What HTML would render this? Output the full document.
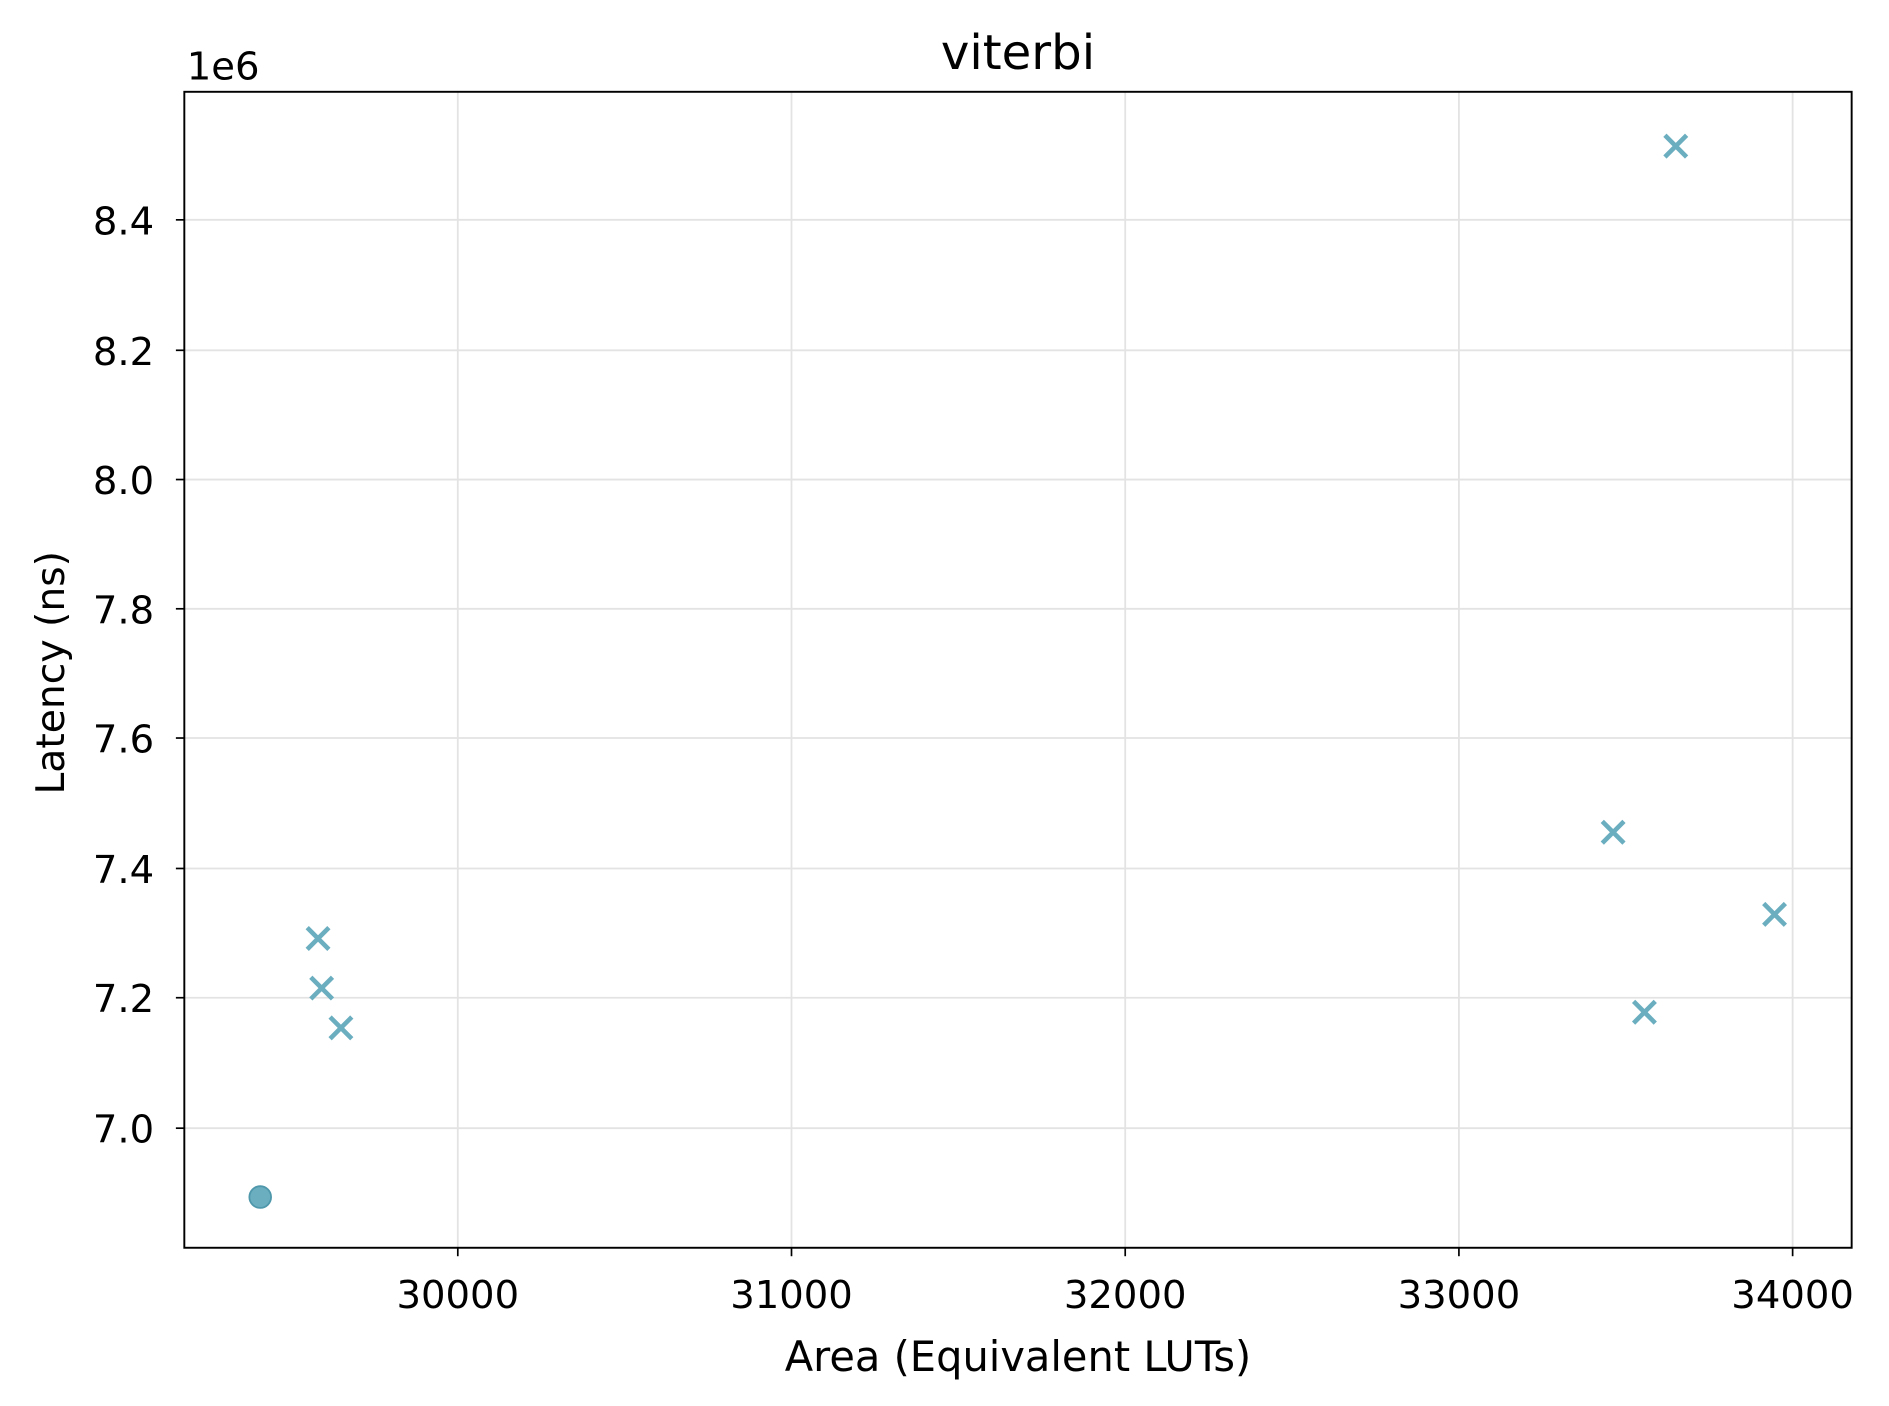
<!DOCTYPE html>
<html><head><style>html,body{margin:0;padding:0;background:#fff}svg{display:block}</style></head>
<body>
<svg width="1889" height="1406" viewBox="0 0 1568 1164" preserveAspectRatio="none" xmlns="http://www.w3.org/2000/svg" font-family="'DejaVu Sans','Liberation Sans',sans-serif">
<rect width="1568" height="1164" fill="#fff"/>
<g stroke="#e3e3e3" stroke-width="1.5">
<line x1="380" y1="76" x2="380" y2="1033"/><line x1="657" y1="76" x2="657" y2="1033"/><line x1="934" y1="76" x2="934" y2="1033"/><line x1="1211" y1="76" x2="1211" y2="1033"/><line x1="1488" y1="76" x2="1488" y2="1033"/>
<line x1="153" y1="182" x2="1537" y2="182"/><line x1="153" y1="290" x2="1537" y2="290"/><line x1="153" y1="397" x2="1537" y2="397"/><line x1="153" y1="504" x2="1537" y2="504"/><line x1="153" y1="611" x2="1537" y2="611"/><line x1="153" y1="719" x2="1537" y2="719"/><line x1="153" y1="826" x2="1537" y2="826"/><line x1="153" y1="934" x2="1537" y2="934"/>
</g>
<rect x="153" y="76" width="1384" height="957" fill="none" stroke="#000" stroke-width="1.6"/>
<g stroke="#000" stroke-width="1.4">
<line x1="380" y1="1033" x2="380" y2="1040"/><line x1="657" y1="1033" x2="657" y2="1040"/><line x1="934" y1="1033" x2="934" y2="1040"/><line x1="1211" y1="1033" x2="1211" y2="1040"/><line x1="1488" y1="1033" x2="1488" y2="1040"/>
<line x1="146" y1="182" x2="153" y2="182"/><line x1="146" y1="290" x2="153" y2="290"/><line x1="146" y1="397" x2="153" y2="397"/><line x1="146" y1="504" x2="153" y2="504"/><line x1="146" y1="611" x2="153" y2="611"/><line x1="146" y1="719" x2="153" y2="719"/><line x1="146" y1="826" x2="153" y2="826"/><line x1="146" y1="934" x2="153" y2="934"/>
</g>
<g font-size="32" fill="#000" text-anchor="middle">
<text x="380" y="1083">30000</text><text x="657" y="1083">31000</text><text x="934" y="1083">32000</text><text x="1211" y="1083">33000</text><text x="1488" y="1083">34000</text>
</g>
<g font-size="32" fill="#000" text-anchor="end">
<text x="128" y="194">8.4</text><text x="128" y="302">8.2</text><text x="128" y="409">8.0</text><text x="128" y="516">7.8</text><text x="128" y="623">7.6</text><text x="128" y="731">7.4</text><text x="128" y="838">7.2</text><text x="128" y="946">7.0</text>
</g>
<text x="155" y="66" font-size="32">1e6</text>
<text x="845" y="57" font-size="40" text-anchor="middle">viterbi</text>
<text x="845" y="1135" font-size="34.5" text-anchor="middle">Area (Equivalent LUTs)</text>
<text transform="translate(53,557) rotate(-90)" font-size="32.5" text-anchor="middle">Latency (ns)</text>
<g stroke="#6aaec0" stroke-width="3.8">
<path d="M255 768l18 18M273 768l-18 18"/>
<path d="M258 809l18 18M276 809l-18 18"/>
<path d="M274 842l18 18M292 842l-18 18"/>
<path d="M1330 680l18 18M1348 680l-18 18"/>
<path d="M1356 829l18 18M1374 829l-18 18"/>
<path d="M1382 112l18 18M1400 112l-18 18"/>
<path d="M1464 748l18 18M1482 748l-18 18"/>
</g>
<circle cx="216" cy="991" r="9" fill="#6aaec0" stroke="#4f97ab" stroke-width="1.5"/>
</svg>
</body></html>
